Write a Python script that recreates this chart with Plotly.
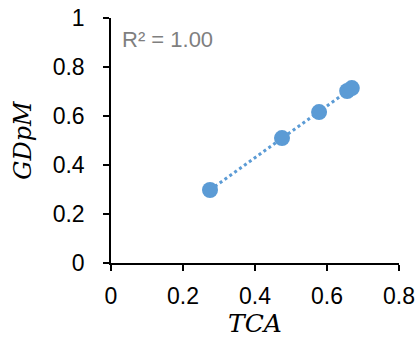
import numpy as np
import plotly.graph_objects as go

tca = [0.275, 0.475, 0.578, 0.656, 0.669]
gdpm = [0.298, 0.510, 0.616, 0.702, 0.714]
x_ticks = [0, 0.2, 0.4, 0.6, 0.8]
y_ticks = [0, 0.2, 0.4, 0.6, 0.8, 1]

slope, intercept = np.polyfit(tca, gdpm, 1)
pred = np.polyval([slope, intercept], tca)
r2 = 1 - np.sum((np.array(gdpm) - pred) ** 2) / np.sum((np.array(gdpm) - np.mean(gdpm)) ** 2)
tx = [min(tca), max(tca)]
ty = [slope * v + intercept for v in tx]

color = "#5b9bd5"
fig = go.Figure()
fig.add_trace(go.Scatter(x=tx, y=ty, mode="lines",
                         line=dict(color=color, width=3, dash="dot"),
                         hoverinfo="skip"))
fig.add_trace(go.Scatter(x=tca, y=gdpm, mode="markers",
                         marker=dict(color=color, size=16, line=dict(width=0))))

fig.add_annotation(x=0, y=1, xref="paper", yref="paper", xanchor="left", yanchor="top",
                   xshift=9, yshift=-7,
                   text=f"R² = {r2:.2f}", showarrow=False,
                   font=dict(family="Liberation Sans, Arial", size=22, color="#7f7f7f"))

fig.update_layout(
    width=418, height=340,
    margin=dict(l=111, r=19, t=18, b=77),
    plot_bgcolor="white", paper_bgcolor="white",
    showlegend=False,
    font=dict(family="Liberation Sans, Arial", size=23, color="black"),
)
fig.update_xaxes(range=[0, 0.8], tickvals=x_ticks, ticktext=[f"{v:g}" for v in x_ticks],
                 automargin=False, ticklabeloverflow="allow", ticklabelstandoff=6,
                 showgrid=False, zeroline=False, showline=True, linecolor="black", linewidth=1.5,
                 ticks="outside", ticklen=6, tickcolor="black", tickwidth=1.5,
                 title=dict(text="<i>TCA</i>", font=dict(family="DejaVu Serif, Liberation Serif", size=25), standoff=6))
fig.update_yaxes(range=[0, 1], tickvals=y_ticks, ticktext=[f"{v:g}" for v in y_ticks],
                 automargin=False, ticklabeloverflow="allow", ticklabelstandoff=14,
                 showgrid=False, zeroline=False, showline=True, linecolor="black", linewidth=1.5,
                 ticks="outside", ticklen=6, tickcolor="black", tickwidth=1.5,
                 title=dict(text="<i>GDpM</i>", font=dict(family="DejaVu Serif, Liberation Serif", size=24), standoff=14))

fig.write_html("out.html", post_script="document.body.style.margin='0';",
               config={"displayModeBar": False})
